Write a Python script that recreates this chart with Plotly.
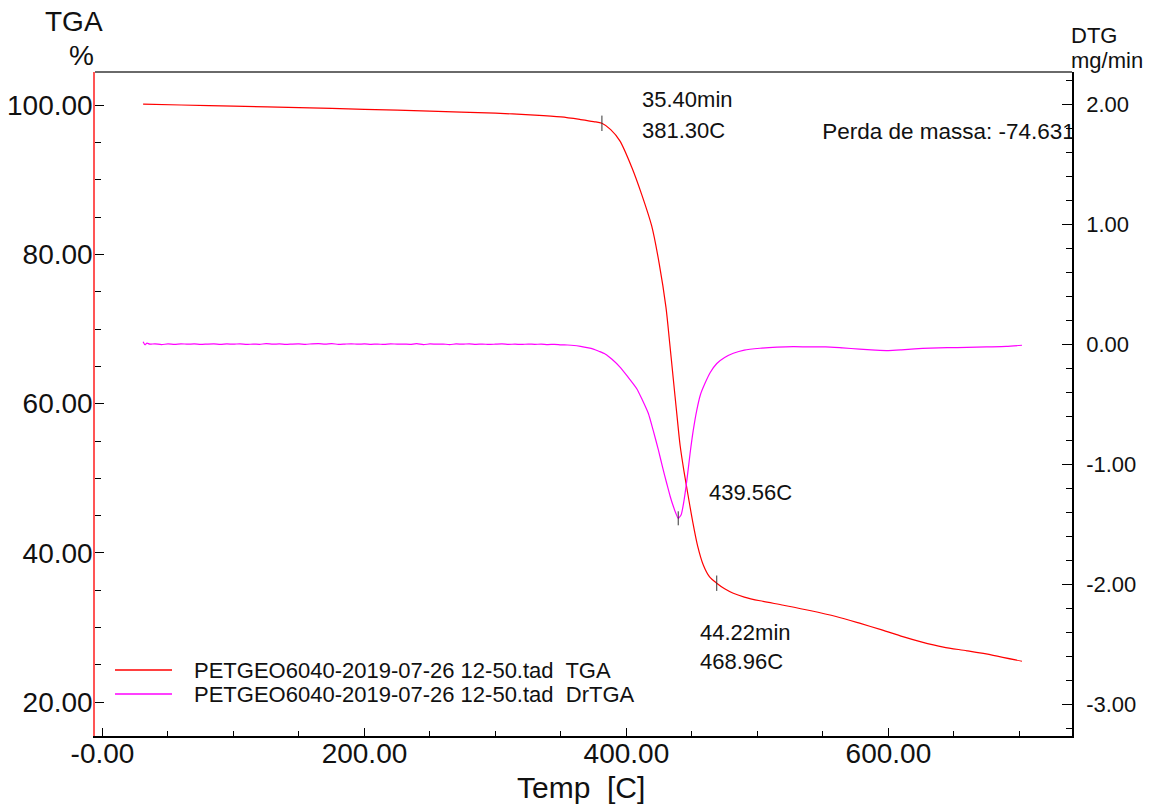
import numpy as np
import plotly.graph_objects as go

# ---- measured data -------------------------------------------------------
# TGA curve: temperature [C] vs. residual mass [%]
tga_temp = [31, 60, 100, 150, 200, 250, 300, 330, 350, 365, 375, 381.3,
            388, 395, 404, 411.7, 419.3, 425, 430.2, 433, 435.8, 438.5, 441,
            444, 447, 450.5, 454.3, 458.7, 463.5, 468.96, 475, 481.6, 490,
            502, 520, 540, 560, 578, 595, 611, 625, 642, 660, 680, 702]
tga_mass = [100.12, 100.0, 99.85, 99.65, 99.42, 99.18, 98.9, 98.65, 98.4,
            98.05, 97.78, 97.55, 96.7, 95.2, 91.7, 88.0, 83.8, 78.8, 72.9,
            68.2, 63.3, 58.6, 54.4, 50.9, 47.8, 44.3, 41.0, 38.4, 36.8, 35.95,
            35.2, 34.6, 34.1, 33.6, 33.0, 32.3, 31.5, 30.6, 29.7, 28.8, 28.1,
            27.4, 26.9, 26.3, 25.5]

# DTG curve: temperature [C] vs. mass-loss rate [mg/min]
dtg_temp = [31, 32.5, 34, 36, 40, 45, 50, 55, 60, 65, 70, 75, 80, 85, 90,
            95, 100, 105, 110, 115, 120, 125, 130, 135, 140, 145, 150, 155,
            160, 165, 170, 175, 180, 185, 190, 195, 200, 205, 210, 215, 220,
            225, 230, 235, 240, 245, 250, 255, 260, 265, 270, 275, 280, 285,
            290, 295, 300, 305, 310, 315, 320, 325, 330, 335, 340, 345, 350,
            355, 360, 365, 370, 374.8, 379, 383.7, 389, 395.1, 401, 407.9,
            412, 416.7, 420.5, 424.4, 427.5, 430.8, 433.5, 435.8, 437.8,
            439.56, 441.8, 444, 446.3, 448.6, 451, 453.7, 456.5, 460, 464,
            469, 475, 481.6, 490, 502, 515, 527.5, 540, 552, 565, 578, 590,
            600, 610, 620, 632, 645, 660, 675, 690, 702]
dtg_rate = [0.022, -0.004, 0.010, 0.001, 0.004, -0.002, 0.003, 0.000,
            0.004, 0.001, 0.003, -0.001, 0.002, 0.004, 0.000, 0.003, 0.001,
            0.004, -0.001, 0.002, 0.000, 0.005, 0.001, 0.003, -0.001, 0.002,
            0.003, 0.000, 0.004, 0.006, 0.001, 0.005, 0.000, 0.002, 0.004,
            0.001, 0.003, 0.000, 0.002, -0.001, 0.004, 0.001, 0.002, 0.000,
            0.005, -0.003, 0.003, 0.001, 0.002, -0.002, 0.003, 0.001, 0.004,
            0.000, 0.002, -0.001, 0.001, 0.003, 0.000, 0.001, -0.001, 0.002,
            0.000, 0.001, -0.002, 0.000, -0.004, -0.006, -0.010, -0.018,
            -0.028, -0.040, -0.058, -0.080, -0.125, -0.190, -0.270, -0.370,
            -0.460, -0.575, -0.720, -0.880, -1.020, -1.160, -1.270, -1.350,
            -1.410, -1.450, -1.420, -1.300, -1.120, -0.910, -0.720, -0.550,
            -0.420, -0.325, -0.235, -0.160, -0.110, -0.075, -0.048, -0.033,
            -0.024, -0.020, -0.022, -0.021, -0.030, -0.040, -0.048, -0.052,
            -0.046, -0.038, -0.032, -0.028, -0.026, -0.022, -0.018, -0.008]

# characteristic points marked on the curves
onset_temp, onset_time = 381.30, 35.40
peak_temp = 439.56
endset_temp, endset_time = 468.96, 44.22
mass_loss = -74.631

# tick labels
x_ticks = [0, 200, 400, 600]
x_ticktext = ["-0.00", "200.00", "400.00", "600.00"]
y_ticks = [20, 40, 60, 80, 100]
y_ticktext = ["20.00", "40.00", "60.00", "80.00", "100.00"]
y2_ticks = [-3, -2, -1, 0, 1, 2]
y2_ticktext = ["-3.00", "-2.00", "-1.00", "0.00", "1.00", "2.00"]

legend_names = ["PETGEO6040-2019-07-26 12-50.tad\u00a0 TGA",
                "PETGEO6040-2019-07-26 12-50.tad\u00a0 DrTGA"]

# ---- styling -------------------------------------------------------------
FONT = "Liberation Sans, Arial, sans-serif"
TXT = "#111111"
RED = "#ff0000"
MAGENTA = "#ff00ff"
W, H = 1158, 807
L, R, T, B = 95, 86, 72, 71          # plot area margins in px
PW, PH = W - L - R, H - T - B


def px(xp):
    return (xp - L) / PW


def py(yp):
    return (H - B - yp) / PH


fig = go.Figure()

fig.add_trace(go.Scatter(x=tga_temp, y=tga_mass, mode="lines",
                         line=dict(color=RED, width=1.2, shape="spline",
                                   smoothing=0.8),
                         name=legend_names[0], showlegend=False,
                         yaxis="y"))
fig.add_trace(go.Scatter(x=dtg_temp, y=dtg_rate, mode="lines",
                         line=dict(color=MAGENTA, width=1.2, shape="spline",
                                   smoothing=0.6),
                         name=legend_names[1], showlegend=False,
                         yaxis="y2"))

# small vertical markers at onset / endset on TGA and at the DTG peak
mark_t = [onset_temp, endset_temp]
mark_m = list(np.interp(mark_t, tga_temp, tga_mass))
fig.add_trace(go.Scatter(x=mark_t, y=mark_m, mode="markers",
                         marker=dict(symbol="line-ns", size=11,
                                     line=dict(color="#333333", width=1)),
                         showlegend=False, hoverinfo="skip", yaxis="y"))
fig.add_trace(go.Scatter(x=[peak_temp],
                         y=[float(np.interp(peak_temp, dtg_temp, dtg_rate))],
                         mode="markers",
                         marker=dict(symbol="line-ns", size=10,
                                     line=dict(color="#333333", width=1)),
                         showlegend=False, hoverinfo="skip", yaxis="y2"))

# mass-loss label, clipped by the plot area like the instrument software
fig.add_trace(go.Scatter(x=[549.5], y=[96.25], mode="text",
                         text=[f"Perda de massa:\u00a0{mass_loss:.3f}"],
                         textposition="middle right",
                         textfont=dict(family=FONT, size=22.5, color=TXT),
                         cliponaxis=True, showlegend=False, hoverinfo="skip",
                         yaxis="y"))

tick_font = dict(family=FONT, size=28, color=TXT)

fig.update_layout(
    width=W, height=H,
    margin=dict(l=L, r=R, t=T, b=B),
    paper_bgcolor="white", plot_bgcolor="white",
    showlegend=False,
    xaxis=dict(range=[-5.73, 740.2], tickmode="array", tickvals=x_ticks,
               ticktext=x_ticktext, ticks="inside", ticklen=8,
               tickwidth=1, tickcolor="black", showgrid=False,
               zeroline=False, showline=True, linecolor="black",
               linewidth=2, tickfont=tick_font, ticklabelstandoff=-9,
               automargin=False,
               minor=dict(dtick=50, tick0=0, ticks="inside", ticklen=5,
                          tickwidth=1, tickcolor="black", showgrid=False)),
    yaxis=dict(range=[15.49, 104.42], tickmode="array", tickvals=y_ticks,
               ticktext=y_ticktext, ticks="inside", ticklen=9,
               tickwidth=1, tickcolor="black", showgrid=False,
               zeroline=False, showline=True, linecolor="#ff5555",
               linewidth=1.5, tickfont=tick_font, ticklabelstandoff=-5,
               automargin=False,
               minor=dict(dtick=5, tick0=0, ticks="inside", ticklen=6,
                          tickwidth=1, tickcolor="black", showgrid=False)),
    yaxis2=dict(range=[-3.264, 2.269], overlaying="y", side="right",
                anchor="x", tickmode="array", tickvals=y2_ticks,
                ticktext=y2_ticktext, ticks="inside", ticklen=10,
                tickwidth=1, tickcolor="black", showgrid=False,
                zeroline=False, showline=True, linecolor="black",
                linewidth=1.5, ticklabelstandoff=8, automargin=False,
                tickfont=dict(family=FONT, size=22, color=TXT),
                minor=dict(dtick=0.2, tick0=0, ticks="inside", ticklen=6,
                           tickwidth=1, tickcolor="black", showgrid=False)),
)

# top border of the frame
fig.add_shape(type="line", xref="paper", yref="paper", x0=0, x1=1, y0=1,
              y1=1, line=dict(color="#6a6a6a", width=2))

ann_font = dict(family=FONT, size=22, color=TXT)
annotations = [
    dict(text="TGA", x=px(73.5), y=py(22), xanchor="center",
         font=dict(family=FONT, size=28, color=TXT)),
    dict(text="%", x=px(81), y=py(56), xanchor="center",
         font=dict(family=FONT, size=28, color=TXT)),
    dict(text="DTG", x=px(1069), y=py(36), xanchor="left", font=ann_font),
    dict(text="mg/min", x=px(1069), y=py(60), xanchor="left", font=ann_font),
    dict(text="Temp\u00a0 [C]", x=px(581), y=py(787), xanchor="center",
         font=dict(family=FONT, size=30, color=TXT)),
    dict(text=f"{onset_time:.2f}min", x=px(640), y=py(100), xanchor="left",
         font=ann_font),
    dict(text=f"{onset_temp:.2f}C", x=px(640), y=py(130), xanchor="left",
         font=ann_font),
    dict(text=f"{peak_temp:.2f}C", x=px(707), y=py(492), xanchor="left",
         font=ann_font),
    dict(text=f"{endset_time:.2f}min", x=px(698), y=py(632), xanchor="left",
         font=ann_font),
    dict(text=f"{endset_temp:.2f}C", x=px(698), y=py(661), xanchor="left",
         font=ann_font),
]
for i, (name, col) in enumerate(zip(legend_names, [RED, MAGENTA])):
    yy = 670 + 24 * i
    fig.add_shape(type="line", xref="paper", yref="paper", x0=px(115),
                  x1=px(172), y0=py(yy), y1=py(yy),
                  line=dict(color=col, width=1.5))
    annotations.append(dict(text=name, x=px(192), y=py(yy), xanchor="left",
                            font=ann_font))

for a in annotations:
    a.update(xref="paper", yref="paper", yanchor="middle", showarrow=False)
fig.update_layout(annotations=annotations)

fig.write_html("out.html")
